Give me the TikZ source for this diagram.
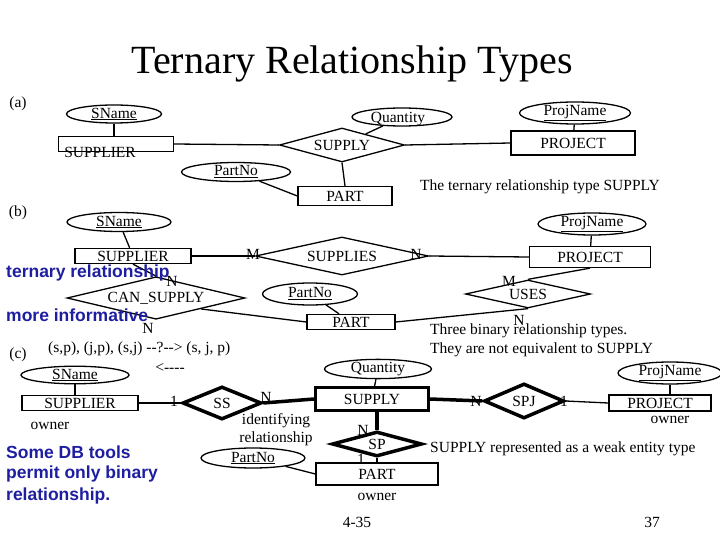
\documentclass[tikz,border=0pt]{standalone}
\usepackage{fontspec}
\setmainfont{Liberation Serif}
\setsansfont{Liberation Sans}
\usetikzlibrary{shapes.geometric}
\definecolor{noteblue}{RGB}{30,30,160}
\tikzset{
  entity/.style={draw, line width=1.3pt, rectangle, inner sep=0pt},
  weakent/.style={draw, line width=3pt, rectangle, inner sep=0pt},
  attr/.style={draw, line width=1.3pt, ellipse, inner sep=0pt},
  rel/.style={draw, line width=1.3pt, diamond, inner sep=0pt, shape aspect=#1},
  idrel/.style={draw, line width=3.5pt, diamond, inner sep=0pt, shape aspect=#1},
  link/.style={line width=1.3pt},
  idlink/.style={line width=3.5pt},
  lbl/.style={inner sep=0pt, font=\fontsize{15.5}{18}\selectfont},
  bluenote/.style={inner sep=0pt, anchor=west, text=noteblue, font=\sffamily\bfseries\fontsize{17.5}{20}\selectfont}
}
\begin{document}
\begin{tikzpicture}[x=1pt,y=-1pt, every node/.style={font=\fontsize{15.5}{18}\selectfont}]
    \useasboundingbox[fill=white] (0,0) rectangle (720,540);
    \node[font=\fontsize{40}{42}\selectfont] (title) at (352,64) {Ternary Relationship Types};

    % (a) ternary relationship
    \node[lbl] (tagA) at (18,104) {(a)};
    \node[attr, minimum width=95, minimum height=18] (aSName) at (114,114) {\underline{SName}};
    \node[entity, minimum width=115, minimum height=15] (aSupplier) at (116,144) {};
    \node[lbl] (aSupplierTxt) at (100,152) {SUPPLIER};
    \node[attr, minimum width=100, minimum height=18] (aQty) at (402,117) {};
    \node[lbl] (aQtyTxt) at (398,119) {Quantity};
    \node[rel=3.4, minimum width=125, minimum height=34] (aSupply) at (342,145) {SUPPLY};
    \node[entity, minimum width=124, minimum height=24] (aProject) at (573,143) {PROJECT};
    \node[attr, minimum width=111, minimum height=18] (aProjName) at (575,113) {\underline{ProjName}};
    \node[attr, minimum width=109, minimum height=19] (aPartNo) at (236,172) {\underline{PartNo}};
    \node[entity, minimum width=94, minimum height=19] (aPart) at (345,196) {PART};
    \node[lbl, anchor=west] (aNote) at (420,187) {The ternary relationship type SUPPLY};
    \draw[link] (aSName) -- (aSName|-aSupplier.north);
    \draw[link] (aSupplier.east) -- (aSupply.west);
    \draw[link] (aSupply.east) -- (aProject.west);
    \draw[link] (aQty) -- (aSupply);
    \draw[link] (aProjName) -- (aProject);
    \draw[link] (aSupply.south) -- (aPart.north);
    \draw[link] (aPartNo) -- (aPart.west);

    % (b) three binary relationships
    \node[lbl] (tagB) at (18,213) {(b)};
    \node[attr, minimum width=104, minimum height=19] (bSName) at (119,222) {\underline{SName}};
    \node[entity, minimum width=116, minimum height=15] (bSupplier) at (133,256) {SUPPLIER};
    \node[rel=3.4, minimum width=173, minimum height=38] (bSupplies) at (342,256) {SUPPLIES};
    \node[entity, minimum width=121, minimum height=21] (bProject) at (590,257) {PROJECT};
    \node[attr, minimum width=108, minimum height=18] (bProjName) at (592,224) {\underline{ProjName}};
    \node[rel=3.6, minimum width=125, minimum height=28] (bUses) at (528,294) {USES};
    \node[rel=3.2, minimum width=178, minimum height=40] (bCanSupply) at (156,298) {CAN\_SUPPLY};
    \node[attr, minimum width=95, minimum height=22] (bPartNo) at (310,294) {\underline{PartNo}};
    \node[entity, minimum width=88, minimum height=15] (bPart) at (351,322) {PART};
    \draw[link] (bSName) -- (bSupplier);
    \draw[link] (bSupplier.east) -- (bSupplies.west);
    \node[lbl] (bSupM) at (253,254) {M};
    \draw[link] (bSupplies.east) -- (bProject.west);
    \node[lbl] (bSupN) at (416,254) {N};
    \draw[link] (bProjName) -- (bProject);
    \draw[link] (bProject.south) -- (bUses.north);
    \node[lbl] (bUsesM) at (509,281) {M};
    \draw[link] (bUses.south) -- (bPart.east);
    \node[lbl] (bUsesN) at (519,320) {N};
    \draw[link] (bSupplier.south) -- (bCanSupply.north);
    \node[lbl] (bCanTopN) at (172,281) {N};
    \draw[link] (bCanSupply.south east) -- (bPart.west);
    \node[lbl] (bCanN) at (148,328) {N};
    \draw[link] (bPartNo) -- (bPart);
    \node[bluenote] (noteTern) at (6,273) {ternary relationship};
    \node[bluenote] (noteInfo) at (6,315) {more informative};
    \node[lbl, anchor=west] (bNote1) at (430,331) {Three binary relationship types.};
    \node[lbl, anchor=west] (bNote2) at (430,350) {They are not equivalent to SUPPLY};

    % (c) weak entity type
    \node[lbl] (tagC) at (18,355) {(c)};
    \node[lbl, anchor=west] (cTuples) at (48,349) {(s,p), (j,p), (s,j) {-}{-}?{-}{-}> (s, j, p)};
    \node[lbl] (cBack) at (170,368) {<{-}{-}{-}{-}};
    \node[attr, minimum width=108, minimum height=16] (cSName) at (75,375) {\underline{SName}};
    \node[entity, minimum width=116, minimum height=15] (cSupplier) at (80,403) {SUPPLIER};
    \node[lbl] (cOwnS) at (50,426) {owner};
    \node[idrel=2.4, minimum width=79, minimum height=33] (cSS) at (222,403) {SS};
    \node[weakent, minimum width=113, minimum height=23] (cSupply) at (372,399) {SUPPLY};
    \node[attr, minimum width=107, minimum height=18] (cQty) at (378,369) {Quantity};
    \node[idrel=2.3, minimum width=80, minimum height=35] (cSPJ) at (524,401) {SPJ};
    \node[entity, minimum width=102, minimum height=16] (cProject) at (660,403) {PROJECT};
    \node[attr, minimum width=104, minimum height=18] (cProjName) at (670,373) {\underline{ProjName}};
    \node[lbl] (cOwnJ) at (670,420) {owner};
    \node[idrel=3.6, minimum width=90, minimum height=25] (cSP) at (377,444) {SP};
    \node[entity, minimum width=122, minimum height=22] (cPart) at (377,474) {PART};
    \node[attr, minimum width=104, minimum height=20] (cPartNo) at (253,458) {\underline{PartNo}};
    \node[lbl] (cOwnP) at (377,497) {owner};
    \node[lbl, align=center] (cIdent) at (276,430) {identifying\\relationship};
    \node[lbl, anchor=west] (cNote) at (430,449) {SUPPLY represented as a weak entity type};
    \draw[link] (cSName) -- (cSName|-cSupplier.north);
    \draw[link] (cSupplier.east) -- (cSS.west);
    \node[lbl] (cSS1) at (174,401) {1};
    \draw[idlink] (cSS.east) -- (cSupply.west);
    \node[lbl] (cSSN) at (266,397) {N};
    \draw[link] (cQty) -- (cSupply);
    \draw[idlink] (cSupply.east) -- (cSPJ.west);
    \node[lbl] (cSPJN) at (476,401) {N};
    \draw[link] (cSPJ.east) -- (cProject.west);
    \node[lbl] (cSPJ1) at (564,401) {1};
    \draw[link] (cProjName) -- (cProjName|-cProject.north);
    \draw[idlink] (cSupply.south-|cSP) -- (cSP.north);
    \node[lbl] (cSPN) at (363,430) {N};
    \draw[link] (cSP.south) -- (cPart.north);
    \node[lbl] (cSP1) at (361,459) {1};
    \draw[link] (cPartNo) -- (cPart.west);
    \node[bluenote] (noteTools1) at (6,452) {Some DB tools};
    \node[bluenote] (noteTools2) at (6,474) {permit only binary};
    \node[bluenote] (noteTools3) at (6,496) {relationship.};
    \node[lbl] (pageA) at (357,522) {4-35};
    \node[lbl] (pageB) at (652,522) {37};
\end{tikzpicture}
\end{document}
